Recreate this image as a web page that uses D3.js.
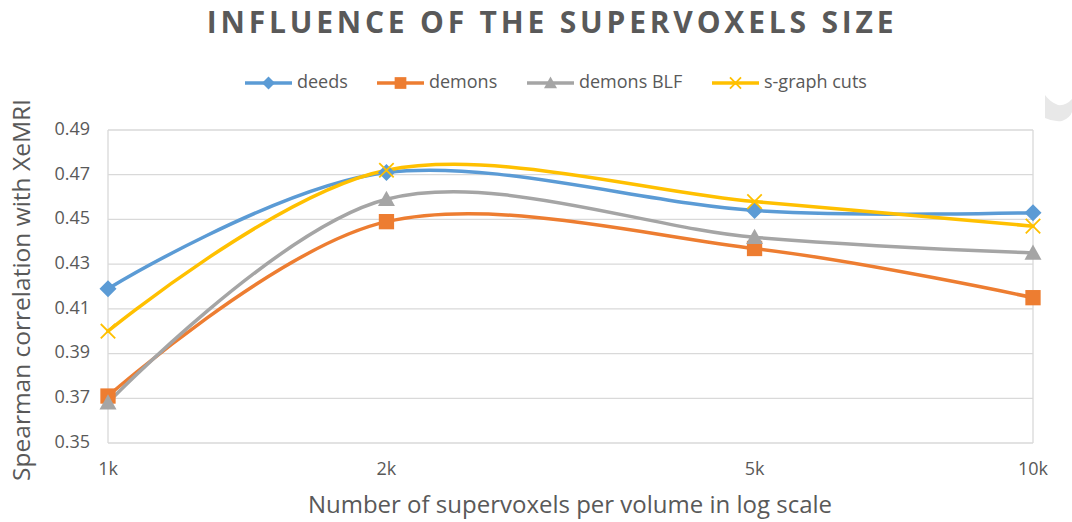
<!DOCTYPE html>
<html>
<head>
<meta charset="utf-8">
<script src="https://cdn.jsdelivr.net/npm/d3@7"></script>
<style>
  body { margin: 0; background: #fff; }
  svg text { font-family: "Open Sans", "DejaVu Sans", sans-serif; fill: #595959; }
</style>
</head>
<body>
<main></main>
<script>
// chart values
const sizes = [1000, 2000, 5000, 10000]
const sizeLabels = ['1k', '2k', '5k', '10k']
const deeds = [0.419, 0.471, 0.454, 0.453]
const demons = [0.371, 0.449, 0.437, 0.415]
const demonsBLF = [0.368, 0.459, 0.442, 0.435]
const sgraphCuts = [0.400, 0.472, 0.458, 0.447]
const yTicks = [0.35, 0.37, 0.39, 0.41, 0.43, 0.45, 0.47, 0.49]

const series = [
  { name: 'deeds', values: deeds, color: '#5B9BD5', marker: 'diamond' },
  { name: 'demons', values: demons, color: '#ED7D31', marker: 'square' },
  { name: 'demons BLF', values: demonsBLF, color: '#A5A5A5', marker: 'triangle' },
  { name: 's-graph cuts', values: sgraphCuts, color: '#FFC000', marker: 'cross' }
]

const W = 1072
const H = 522
const margins = { left: 108, right: 39, top: 130, bottom: 79 }

const svg = d3.select('main')
  .append('svg')
  .attr('width', W)
  .attr('height', H)

const x = d3.scaleLog()
  .domain([1000, 10000])
  .range([margins.left, W - margins.right])
const y = d3.scaleLinear()
  .domain([0.35, 0.49])
  .range([H - margins.bottom, margins.top])

// horizontal gridlines
svg.append('g')
  .selectAll('line')
  .data(yTicks)
  .enter()
  .append('line')
  .attr('x1', x(1000))
  .attr('x2', x(10000))
  .attr('y1', d => y(d))
  .attr('y2', d => y(d))
  .style('stroke', '#D9D9D9')
  .style('stroke-width', '1.3px')

// vertical lines at the ends of the log axis
svg.append('g')
  .selectAll('line')
  .data([1000, 10000])
  .enter()
  .append('line')
  .attr('x1', d => x(d))
  .attr('x2', d => x(d))
  .attr('y1', y(0.49))
  .attr('y2', y(0.35))
  .style('stroke', '#D9D9D9')
  .style('stroke-width', '1.3px')

// y tick labels
svg.append('g')
  .selectAll('text')
  .data(yTicks)
  .enter()
  .append('text')
  .attr('x', 90)
  .attr('y', d => y(d))
  .attr('text-anchor', 'end')
  .attr('dominant-baseline', 'middle')
  .style('font-size', '18px')
  .text(d => d3.format('.2f')(d))

// x tick labels
svg.append('g')
  .selectAll('text')
  .data(sizes)
  .enter()
  .append('text')
  .attr('x', d => x(d))
  .attr('y', 470)
  .attr('text-anchor', 'middle')
  .attr('dominant-baseline', 'middle')
  .style('font-size', '18px')
  .text((d, i) => sizeLabels[i])

// axis titles
svg.append('text')
  .attr('x', 570)
  .attr('y', 507)
  .attr('text-anchor', 'middle')
  .attr('dominant-baseline', 'middle')
  .style('font-size', '24px')
  .text('Number of supervoxels per volume in log scale')

svg.append('text')
  .attr('transform', 'translate(23,290) rotate(-90)')
  .attr('text-anchor', 'middle')
  .attr('dominant-baseline', 'middle')
  .style('font-size', '24.5px')
  .text('Spearman correlation with XeMRI')

// title
svg.append('text')
  .attr('x', 552)
  .attr('y', 25)
  .attr('text-anchor', 'middle')
  .attr('dominant-baseline', 'middle')
  .style('font-size', '30px')
  .style('font-weight', 'bold')
  .style('letter-spacing', '3.8px')
  .text('INFLUENCE OF THE SUPERVOXELS SIZE')

// marker drawing
function drawMarker (g, type, color, size) {
  const r = size / 2
  if (type === 'diamond') {
    g.append('path')
      .attr('d', `M0,${-r}L${r},0L0,${r}L${-r},0Z`)
      .style('fill', color)
  } else if (type === 'square') {
    const s = size * 0.9
    g.append('rect')
      .attr('x', -s / 2)
      .attr('y', -s / 2)
      .attr('width', s)
      .attr('height', s)
      .style('fill', color)
  } else if (type === 'triangle') {
    g.append('path')
      .attr('d', `M0,${-r}L${r},${r * 0.8}L${-r},${r * 0.8}Z`)
      .style('fill', color)
  } else {
    const c = r * 0.85
    g.append('path')
      .attr('d', `M${-c},${-c}L${c},${c}M${-c},${c}L${c},${-c}`)
      .style('stroke', color)
      .style('stroke-width', '1.8px')
      .style('fill', 'none')
  }
}

const line = d3.line()
  .x((d, i) => x(sizes[i]))
  .y(d => y(d))
  .curve(d3.curveCatmullRom.alpha(0))

const plot = svg.append('g')
series.forEach(s => {
  plot.append('path')
    .attr('d', line(s.values))
    .style('fill', 'none')
    .style('stroke', s.color)
    .style('stroke-width', '3.5px')
    .style('stroke-linecap', 'round')
})
series.forEach(s => {
  s.values.forEach((v, i) => {
    const g = plot.append('g')
      .attr('transform', `translate(${x(sizes[i])},${y(v)})`)
    drawMarker(g, s.marker, s.color, 17)
  })
})

// legend
const legendX = [245, 377, 527, 712]
const legend = svg.append('g')
series.forEach((s, i) => {
  const g = legend.append('g')
    .attr('transform', `translate(${legendX[i]},83)`)
  g.append('line')
    .attr('x1', 0)
    .attr('x2', 47)
    .style('stroke', s.color)
    .style('stroke-width', '3.5px')
  const m = g.append('g').attr('transform', 'translate(23.5,0)')
  drawMarker(m, s.marker, s.color, 13)
  g.append('text')
    .attr('x', 52)
    .attr('y', 0)
    .attr('dominant-baseline', 'middle')
    .style('font-size', '18px')
    .text(s.name)
})

// faint grey shape at the right edge of the picture
svg.append('path')
  .attr('d', 'M1045,95 L1045,118 Q1053,122 1062,121 Q1070,118 1072,112 L1072,99 Q1066,106 1058,105 Q1050,102 1045,95 Z')
  .style('fill', '#E8E8E8')
</script>
</body>
</html>
